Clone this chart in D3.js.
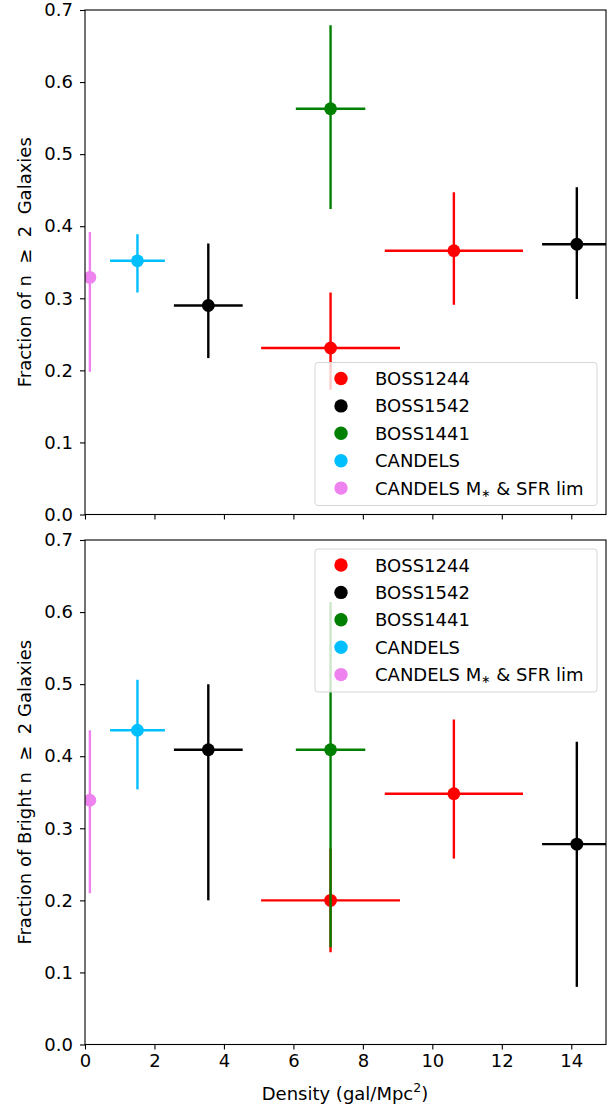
<!DOCTYPE html>
<html>
<head>
<meta charset="utf-8">
<script src="https://cdn.jsdelivr.net/npm/d3@7"></script>
<style>
  body { margin: 0; background: #fff; }
  svg { font-family: "DejaVu Sans", sans-serif; }
</style>
</head>
<body>
<svg id="chart" width="609" height="1108"></svg>
<script>
// series, in legend order
var seriesNames = ["BOSS1244", "BOSS1542", "BOSS1441", "CANDELS", "CANDELS M* & SFR lim"];
var seriesColors = ["red", "black", "green", "deepskyblue", "violet"];

// density (x) and its half-width
var density    = [[7.07, 10.62], [3.55, 14.16], [7.07], [1.51], [0.14]];
var densityErr = [[2.0, 1.99], [0.99, 1.0], [1.0], [0.79], [0]];

// fraction of n >= 2 galaxies (top panel)
var fracAll     = [[0.231, 0.366], [0.290, 0.375], [0.563], [0.352], [0.329]];
var fracAllLow  = [[0.173, 0.291], [0.217, 0.299], [0.424], [0.308], [0.198]];
var fracAllHigh = [[0.308, 0.447], [0.376, 0.454], [0.679], [0.389], [0.392]];

// fraction of bright n >= 2 galaxies (bottom panel)
var fracBright     = [[0.200, 0.348], [0.409, 0.278], [0.409], [0.436], [0.339]];
var fracBrightLow  = [[0.128, 0.258], [0.200, 0.080], [0.135], [0.354], [0.210]];
var fracBrightHigh = [[0.272, 0.451], [0.500, 0.420], [0.614], [0.506], [0.436]];

var xTicks = [0, 2, 4, 6, 8, 10, 12, 14];
var yTicks = [0.0, 0.1, 0.2, 0.3, 0.4, 0.5, 0.6, 0.7];

var svg = d3.select("#chart");
var left = 85, right = 606;
var fs = 18;

var x = d3.scaleLinear().domain([0, 15]).range([left, right]);

function flatten(vals, lo, hi) {
    var out = [];
    seriesNames.forEach(function(name, i) {
        density[i].forEach(function(dx, j) {
            out.push({s: i, x: dx, xe: densityErr[i][j], y: vals[i][j], lo: lo[i][j], hi: hi[i][j]});
        });
    });
    return out;
}

function drawPanel(top, bottom, pts, yLabel, showXLabels, legendTop, id) {
    var y = d3.scaleLinear().domain([0, 0.7]).range([bottom, top]);
    var g = svg.append("g");

    g.append("clipPath").attr("id", "clip" + id)
        .append("rect").attr("x", left).attr("y", top)
        .attr("width", right - left).attr("height", bottom - top);

    var plot = g.append("g").attr("clip-path", "url(#clip" + id + ")");

    var pg = plot.selectAll("g.pt").data(pts).enter().append("g")
        .attr("stroke", function(d) { return seriesColors[d.s]; })
        .attr("fill", function(d) { return seriesColors[d.s]; });

    pg.filter(function(d) { return d.xe > 0; }).append("line")
        .attr("x1", function(d) { return x(d.x - d.xe); })
        .attr("x2", function(d) { return x(d.x + d.xe); })
        .attr("y1", function(d) { return y(d.y); })
        .attr("y2", function(d) { return y(d.y); })
        .attr("stroke-width", 2.4);
    pg.append("line")
        .attr("x1", function(d) { return x(d.x); })
        .attr("x2", function(d) { return x(d.x); })
        .attr("y1", function(d) { return y(d.lo); })
        .attr("y2", function(d) { return y(d.hi); })
        .attr("stroke-width", 2.4);
    pg.append("circle")
        .attr("cx", function(d) { return x(d.x); })
        .attr("cy", function(d) { return y(d.y); })
        .attr("r", 6.4)
        .attr("stroke", "none");

    // axes
    var yAxis = d3.axisLeft(y).tickValues(yTicks).tickFormat(d3.format(".1f")).tickSize(5).tickPadding(7);
    var xAxis = d3.axisBottom(x).tickValues(xTicks).tickSize(5).tickPadding(5);
    if (!showXLabels) xAxis.tickFormat("");

    var ya = g.append("g").attr("transform", "translate(" + left + ",0)").call(yAxis);
    var xa = g.append("g").attr("transform", "translate(0," + bottom + ")").call(xAxis);
    [ya, xa].forEach(function(a) {
        a.select(".domain").remove();
        a.selectAll("line").attr("stroke", "#000").attr("stroke-width", 1.1);
        a.selectAll("text").attr("fill", "#000").attr("font-size", fs)
            .attr("font-family", "DejaVu Sans, sans-serif");
    });

    g.append("rect").attr("x", left).attr("y", top)
        .attr("width", right - left).attr("height", bottom - top)
        .attr("fill", "none").attr("stroke", "#000").attr("stroke-width", 1.1);

    g.append("text")
        .attr("transform", "translate(31," + ((top + bottom) / 2) + ") rotate(-90)")
        .attr("text-anchor", "middle")
        .attr("font-size", fs)
        .style("white-space", "pre")
        .text(yLabel);

    // legend
    var lg = g.append("g");
    lg.append("rect").attr("x", 315).attr("y", legendTop)
        .attr("width", 282).attr("height", 143).attr("rx", 3)
        .attr("fill", "rgba(255,255,255,0.8)").attr("stroke", "#d6d6d6").attr("stroke-width", 1);
    seriesNames.forEach(function(name, i) {
        var ry = legendTop + 16 + i * 27.4;
        lg.append("circle").attr("cx", 341).attr("cy", ry).attr("r", 6.7).attr("fill", seriesColors[i]);
        var t = lg.append("text").attr("x", 375).attr("y", ry + 6.5).attr("font-size", fs).attr("fill", "#000");
        if (name.indexOf("M*") >= 0) {
            t.append("tspan").text("CANDELS M");
            t.append("tspan").attr("font-size", 11).attr("dy", 2).text("\u2217");
            t.append("tspan").attr("dy", -2).text(" & SFR lim");
        } else {
            t.text(name);
        }
    });
}

drawPanel(10, 514.5, flatten(fracAll, fracAllLow, fracAllHigh),
    "Fraction of n  \u2265  2  Galaxies", false, 362.5, "a");
drawPanel(540, 1044.5, flatten(fracBright, fracBrightLow, fracBrightHigh),
    "Fraction of Bright n  \u2265  2 Galaxies", true, 549, "b");

var xl = svg.append("text").attr("x", 345).attr("y", 1100).attr("text-anchor", "middle")
    .attr("font-size", fs).attr("fill", "#000");
xl.append("tspan").text("Density (gal/Mpc");
xl.append("tspan").attr("font-size", 12.5).attr("dy", -8).text("2");
xl.append("tspan").attr("dy", 8).text(")");
</script>
</body>
</html>
